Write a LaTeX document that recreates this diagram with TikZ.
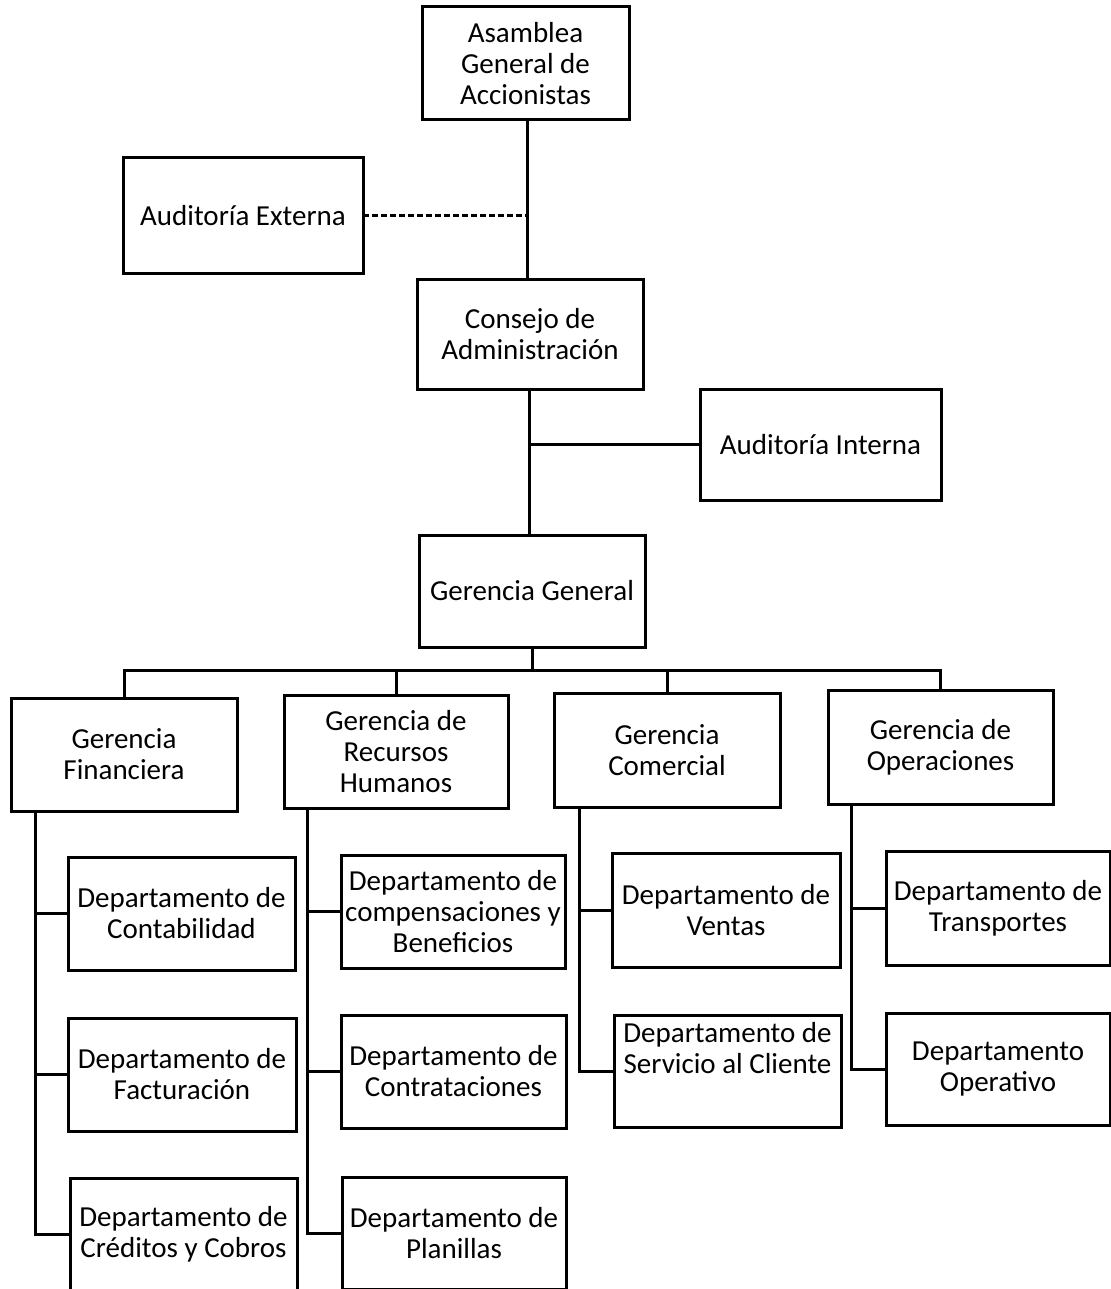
\documentclass[tikz,border=0pt]{standalone}
\usepackage{fontspec}
\setmainfont{Carlito}
\begin{document}
\begin{tikzpicture}[x=0.5pt,y=-0.5pt,
  box/.style={draw,line width=1.5pt,inner sep=0pt,outer sep=0pt,align=center,
    font=\fontsize{14.5}{15.5}\selectfont},
  conn/.style={line width=1.5pt},
  dconn/.style={line width=1.2pt,dash pattern=on 3pt off 1.5pt}]
\useasboundingbox (0,0) rectangle (1110,1289);
% top levels
\node[box,minimum width=103.5pt,minimum height=56.5pt] (asam) at (525.5,63.5) {Asamblea\\General de\\Accionistas};
\node[box,minimum width=120pt,minimum height=57.5pt] (audext) at (243,215.5) {Auditoría Externa};
\node[box,minimum width=113pt,minimum height=55pt] (consejo) at (530,334) {Consejo de\\Administración};
\node[box,minimum width=120.5pt,minimum height=55.5pt] (audint) at (820.5,444.5) {Auditoría Interna};
\node[box,minimum width=113pt,minimum height=56pt] (gg) at (532,591) {Gerencia General};
% gerencias
\node[box,minimum width=113pt,minimum height=56.5pt] (gf) at (124,754.5) {Gerencia\\Financiera};
\node[box,minimum width=112pt,minimum height=56.5pt] (grh) at (396,751.5) {Gerencia de\\Recursos\\Humanos};
\node[box,minimum width=113pt,minimum height=57pt] (gc) at (667,750) {Gerencia\\Comercial};
\node[box,minimum width=112.5pt,minimum height=57pt] (go) at (940.5,747) {Gerencia de\\Operaciones};
% departamentos
\node[box,minimum width=113.5pt,minimum height=56.5pt] (d1) at (181.5,913.5) {Departamento de\\Contabilidad};
\node[box,minimum width=114pt,minimum height=56.5pt] (d2) at (182,1074.5) {Departamento de\\Facturación};
\node[box,minimum width=113.5pt,minimum height=56pt] (d3) at (183.5,1234) {Departamento de\\Créditos y Cobros};
\node[box,minimum width=112pt,minimum height=56.5pt] (d4) at (453,911.5) {Departamento de\\compensaciones y\\Beneficios};
\node[box,minimum width=112.5pt,minimum height=56.5pt] (d5) at (453.5,1071.5) {Departamento de\\Contrataciones};
\node[box,minimum width=112pt,minimum height=56pt] (d6) at (454,1233) {Departamento de\\Planillas};
\node[box,minimum width=114pt,minimum height=57pt] (d7) at (726,910) {Departamento de\\Ventas};
\node[box,minimum width=113.5pt,minimum height=56pt] (d8) at (727.5,1071) {Departamento de\\Servicio al Cliente\\[8pt]\mbox{}};
\node[box,minimum width=112pt,minimum height=57pt] (d9) at (998,908) {Departamento de\\Transportes};
\node[box,minimum width=112pt,minimum height=56pt] (d10) at (998,1069) {Departamento\\Operativo};
% connectors top
\coordinate (a1) at ([xshift=0.75pt]asam.south);
\draw[conn] (a1) -- (a1 |- consejo.north);
\draw[dconn] (audext.east) -- (audext.east -| a1);
\coordinate (c1) at ([xshift=-0.5pt]consejo.south);
\draw[conn] (c1) -- (c1 |- gg.north);
\draw[conn] (c1 |- audint.west) -- (audint.west);
% bus
\coordinate (bus) at (532,670);
\draw[conn] (gg.south) -- (gg.south |- bus);
\draw[conn,line join=miter] (gf.north) -- (gf.north |- bus) -- (go.north |- bus) -- (go.north);
\foreach \g in {grh,gc} \draw[conn] (\g.north |- bus) -- (\g.north);
% spines
\coordinate (sf) at ([xshift=12pt]gf.south west);
\draw[conn] (sf) -- (sf |- d3.west) -- (d3.west);
\draw[conn] (sf |- d1.west) -- (d1.west);
\draw[conn] (sf |- d2.west) -- (d2.west);
\coordinate (sr) at ([xshift=11.5pt]grh.south west);
\draw[conn] (sr) -- (sr |- d6.west) -- (d6.west);
\draw[conn] (sr |- d4.west) -- (d4.west);
\draw[conn] (sr |- d5.west) -- (d5.west);
\coordinate (sc) at ([xshift=12.5pt]gc.south west);
\draw[conn] (sc) -- (sc |- d8.west) -- (d8.west);
\draw[conn] (sc |- d7.west) -- (d7.west);
\coordinate (so) at ([xshift=11.5pt]go.south west);
\draw[conn] (so) -- (so |- d10.west) -- (d10.west);
\draw[conn] (so |- d9.west) -- (d9.west);
\end{tikzpicture}
\end{document}
